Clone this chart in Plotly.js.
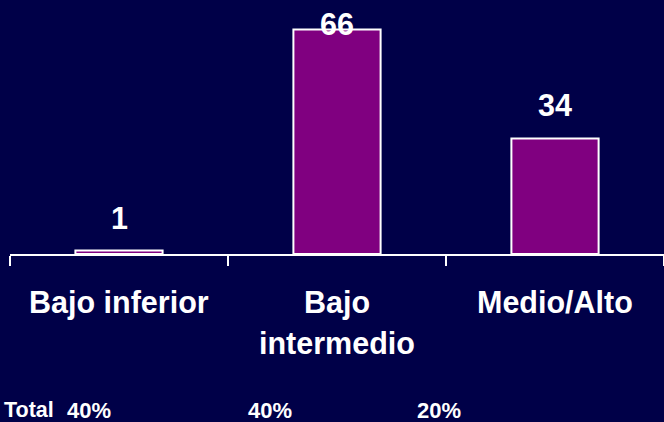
<!DOCTYPE html>
<html>
<head>
<meta charset="utf-8">
<script src="https://cdn.plot.ly/plotly-3.0.1.min.js"></script>
<style>html,body{margin:0;padding:0;background:#000048;}</style>
</head>
<body>
<div id="chart" style="width:664px;height:422px;"></div>
<script>
// ---- data ----
const categories = ['Bajo inferior', 'Bajo<br>intermedio', 'Medio/Alto'];
const values = [1, 66, 34];
const totalLabel = 'Total';
const totalShares = ['40%', '40%', '20%'];

// ---- layout constants ----
const W = 664, H = 422;
const mL = 10, mR = 0, mT = 0, mB = 168;
const plotW = W - mL - mR, plotH = H - mT - mB;
const yMax = 74.7;
const pxPerUnit = plotH / yMax;
const FONT = '"Liberation Sans", Arial, sans-serif';
const WHITE = '#ffffff';
const BIG = 30.5;

const px2paperX = px => (px - mL) / plotW;
const px2paperY = py => (H - mB - py) / plotH;

const annotations = [];

// value labels above bars
values.forEach((v, i) => {
  const room = (yMax - v) * pxPerUnit - 24;
  annotations.push({
    x: categories[i], y: v, xref: 'x', yref: 'y',
    text: String(v), showarrow: false,
    xanchor: 'center', yanchor: 'middle',
    yshift: Math.min(33, room),
    font: {family: FONT, size: BIG, color: WHITE, weight: 'bold'}
  });
});

// category labels (each line placed separately for line spacing)
categories.forEach((c, i) => {
  c.split('<br>').forEach((line, j) => {
    annotations.push({
      x: categories[i], y: px2paperY(302 + j * 41), xref: 'x', yref: 'paper',
      text: line, showarrow: false,
      xanchor: 'center', yanchor: 'middle',
      font: {family: FONT, size: BIG, color: WHITE, weight: 'bold'}
    });
  });
});

// total row
const totalRowY = px2paperY(410);
const totalXs = [89, 270, 439];
annotations.push({
  x: px2paperX(29), y: totalRowY, xref: 'paper', yref: 'paper',
  text: totalLabel, showarrow: false, xanchor: 'center', yanchor: 'middle',
  font: {family: FONT, size: 21.5, color: WHITE, weight: 'bold'}
});
totalShares.forEach((s, i) => {
  annotations.push({
    x: px2paperX(totalXs[i]), y: totalRowY, xref: 'paper', yref: 'paper',
    text: s, showarrow: false, xanchor: 'center', yanchor: 'middle',
    font: {family: FONT, size: 22, color: WHITE, weight: 'bold'}
  });
});

const trace = {
  type: 'bar',
  x: categories,
  y: values,
  width: 0.4,
  marker: {color: '#800080', line: {color: WHITE, width: 2}},
  hoverinfo: 'none'
};

const layout = {
  width: W, height: H,
  margin: {l: mL, r: mR, t: mT, b: mB, pad: 0},
  paper_bgcolor: '#000048',
  plot_bgcolor: '#000048',
  showlegend: false,
  xaxis: {
    type: 'category',
    showline: true, linecolor: WHITE, linewidth: 2,
    ticks: 'outside', tickson: 'boundaries', ticklen: 10, tickwidth: 2, tickcolor: WHITE,
    showticklabels: false, showgrid: false, zeroline: false,
    range: [-0.5, 2.5]
  },
  yaxis: {
    range: [0, yMax], visible: false, showgrid: false, zeroline: false
  },
  annotations: annotations
};

Plotly.newPlot('chart', [trace], layout, {staticPlot: true, displayModeBar: false});
</script>
</body>
</html>
